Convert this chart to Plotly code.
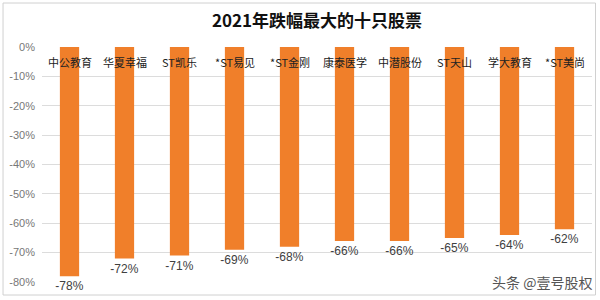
import plotly.graph_objects as go

stocks = ["中公教育", "华夏幸福", "ST凯乐", "*ST易见", "*ST金刚", "康泰医学", "中潜股份", "ST天山", "学大教育", "*ST美尚"]
changes = [-78, -72, -71, -69, -68, -66, -66, -65, -64, -62]
yticks = [0, -10, -20, -30, -40, -50, -60, -70, -80]
ytick_labels = [f"{v}%" for v in yticks]
title = "2021年跌幅最大的十只股票"
watermark = "头条 @壹号股权"

fig = go.Figure()
fig.add_trace(go.Bar(
    x=stocks, y=changes,
    marker=dict(color="#F07F2A", line=dict(width=0)),
    text=[f"{v}%" for v in changes],
    textposition="outside",
    constraintext="none",
    textfont=dict(family="Liberation Sans, Arial", size=12, color="#404040"),
    cliponaxis=False,
    width=0.35,
))

for s in stocks:
    fig.add_annotation(x=s, y=-5, xref="x", yref="y", text=s, showarrow=False,
                       font=dict(family="Noto Sans CJK SC", size=11, color="#222222"))

fig.add_annotation(x=1.003, y=0.0, xref="paper", yref="paper", xanchor="right", yanchor="middle",
                   text=watermark, showarrow=False,
                   font=dict(family="Noto Sans CJK SC", size=14, color="#555555"))

L, R, T, B = 42, 7.5, 47, 18
W, H = 600, 300
pw, ph = W - L - R, H - T - B

def px(x):
    return (x - L) / pw

def py(y):
    return (H - B - y) / ph

fig.add_shape(type="rect", xref="paper", yref="paper",
              x0=px(3), x1=px(596), y0=py(295), y1=py(3),
              line=dict(color="#d0d0d0", width=1), layer="below")

fig.update_layout(
    width=W, height=H,
    margin=dict(l=L, r=R, t=T, b=B),
    paper_bgcolor="white", plot_bgcolor="white",
    title=dict(text=f"<b>{title}</b>", x=0.5, xref="paper", y=0.93, yanchor="middle",
               font=dict(family="Noto Sans CJK SC", size=17, color="#111111")),
    showlegend=False,
    xaxis=dict(showticklabels=False, showgrid=False, zeroline=False, showline=False, ticks=""),
    yaxis=dict(range=[-80, 0], tickvals=yticks, ticktext=ytick_labels,
               showgrid=True, gridcolor="#dcdcdc", gridwidth=1, zeroline=False,
               tickfont=dict(family="Liberation Sans, Arial", size=11, color="#777777"),
               ticks="", ticklabelstandoff=6),
)

fig.write_html("out.html")
